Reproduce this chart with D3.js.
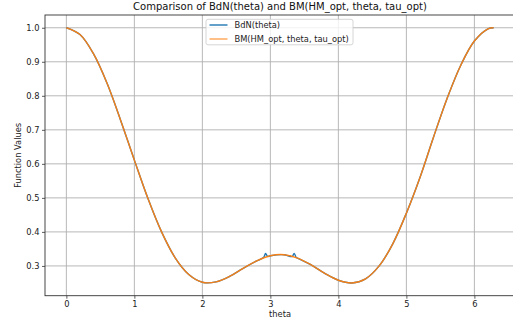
<!DOCTYPE html>
<html>
<head>
<meta charset="utf-8">
<script src="https://cdn.jsdelivr.net/npm/d3@7"></script>
<style>
  body { margin: 0; background: #fff; }
  svg { font-family: "DejaVu Sans", sans-serif; }
</style>
</head>
<body>
<div id="chart"></div>
<script>
// values
const theta = [0, 0.2, 0.4, 0.6, 0.8, 1.0, 1.2, 1.4, 1.6, 1.8, 2.0, 2.2, 2.4, 2.6, 2.8, 3.0,
  3.2, 3.4, 3.6, 3.8, 4.0, 4.2, 4.4, 4.6, 4.8, 5.0, 5.2, 5.4, 5.6, 5.8, 6.0, 6.2, 6.283];
const bmValues = [1.0, 0.980, 0.923, 0.836, 0.727, 0.611, 0.498, 0.400, 0.324, 0.275, 0.252,
  0.253, 0.269, 0.293, 0.315, 0.330, 0.333, 0.323, 0.303, 0.278, 0.258, 0.250, 0.262, 0.300,
  0.365, 0.455, 0.560, 0.679, 0.793, 0.890, 0.961, 0.997, 1.0];
// BdN is drawn under BM; it only shows at two small spikes near 2.93 and 3.35
const thetaBdN = [0, 0.2, 0.4, 0.6, 0.8, 1.0, 1.2, 1.4, 1.6, 1.8, 2.0, 2.2, 2.4, 2.6, 2.8, 2.90, 2.93, 2.96, 3.0,
  3.2, 3.32, 3.35, 3.38, 3.4, 3.6, 3.8, 4.0, 4.2, 4.4, 4.6, 4.8, 5.0, 5.2, 5.4, 5.6, 5.8, 6.0, 6.2, 6.283];
const bdnValues = [1.0, 0.980, 0.923, 0.836, 0.727, 0.611, 0.498, 0.400, 0.324, 0.275, 0.252,
  0.253, 0.269, 0.293, 0.315, 0.3245, 0.337, 0.328, 0.330, 0.333, 0.3275, 0.337, 0.325, 0.323,
  0.303, 0.278, 0.258, 0.250, 0.262, 0.300, 0.365, 0.455, 0.560, 0.679, 0.793, 0.890, 0.961, 0.997, 1.0];
const xTicks = [0, 1, 2, 3, 4, 5, 6];
const yTicks = [0.3, 0.4, 0.5, 0.6, 0.7, 0.8, 0.9, 1.0];
const seriesNames = ["BdN(theta)", "BM(HM_opt, theta, tau_opt)"];
const colors = ["#1f77b4", "#ff7f0e"];

const W = 513, H = 325;
const margin = { top: 15, right: -2, bottom: 29.3, left: 45 };
const width = W - margin.left - margin.right;
const height = H - margin.top - margin.bottom;
const fs = "8.3px";

const svg = d3.select("#chart").append("svg")
  .attr("width", W).attr("height", H);
const g = svg.append("g")
  .attr("transform", `translate(${margin.left},${margin.top})`);

const xPad = 0.05 * 2 * Math.PI;
const x = d3.scaleLinear().domain([-xPad, 2 * Math.PI + xPad]).range([0, width]);
const y = d3.scaleLinear().domain([0.2125, 1.0375]).range([height, 0]);

// grid
g.append("g").selectAll("line").data(xTicks).enter().append("line")
  .attr("x1", d => x(d)).attr("x2", d => x(d))
  .attr("y1", 0).attr("y2", height)
  .attr("stroke", "#b0b0b0").attr("stroke-width", 0.9);
g.append("g").selectAll("line").data(yTicks).enter().append("line")
  .attr("x1", 0).attr("x2", width)
  .attr("y1", d => y(d)).attr("y2", d => y(d))
  .attr("stroke", "#b0b0b0").attr("stroke-width", 0.9);

// axes
const xAxis = g.append("g")
  .attr("transform", `translate(0,${height})`)
  .call(d3.axisBottom(x).tickValues(xTicks).tickFormat(d3.format("d")).tickSize(3).tickPadding(2.5));
const yAxis = g.append("g")
  .call(d3.axisLeft(y).tickValues(yTicks).tickFormat(d3.format(".1f")).tickSize(3).tickPadding(2.5));
[xAxis, yAxis].forEach(a => {
  a.select(".domain").remove();
  a.selectAll("text").attr("font-size", fs).attr("fill", "#222").attr("font-family", "DejaVu Sans");
  a.selectAll("line").attr("stroke", "#333").attr("stroke-width", 0.8);
});

// spines
g.append("rect")
  .attr("x", 0).attr("y", 0).attr("width", width).attr("height", height)
  .attr("fill", "none").attr("stroke", "#333").attr("stroke-width", 0.9);

// lines
const line = d3.line().curve(d3.curveCatmullRom);
g.append("path")
  .attr("d", line(thetaBdN.map((t, i) => [x(t), y(bdnValues[i])])))
  .attr("fill", "none").attr("stroke", colors[0]).attr("stroke-width", 1.4);
g.append("path")
  .attr("d", line(theta.map((t, i) => [x(t), y(bmValues[i])])))
  .attr("fill", "none").attr("stroke", colors[1]).attr("stroke-width", 1.4)
  .attr("stroke-opacity", 0.95);

// legend
const leg = g.append("g").attr("transform", "translate(161,4.3)");
leg.append("rect")
  .attr("x", 0).attr("y", 0).attr("width", 147).attr("height", 25.5).attr("rx", 2)
  .attr("fill", "#fff").attr("fill-opacity", 0.8)
  .attr("stroke", "#ccc").attr("stroke-width", 0.8);
seriesNames.forEach((name, i) => {
  const ly = 5.7 + i * 14;
  leg.append("line")
    .attr("x1", 3.5).attr("x2", 21.5).attr("y1", ly).attr("y2", ly)
    .attr("stroke", colors[i]).attr("stroke-width", 1.4)
    .attr("stroke-opacity", i === 1 ? 0.7 : 1);
  leg.append("text")
    .attr("x", 28.5).attr("y", ly).attr("dy", "0.35em")
    .attr("font-size", fs).attr("fill", "#222")
    .text(name);
});

// title and labels
svg.append("text")
  .attr("x", margin.left + width / 2).attr("y", 9.5)
  .attr("text-anchor", "middle").attr("font-size", "10px").attr("fill", "#111")
  .text("Comparison of BdN(theta) and BM(HM_opt, theta, tau_opt)");
svg.append("text")
  .attr("x", margin.left + width / 2).attr("y", 316.5)
  .attr("text-anchor", "middle").attr("font-size", fs).attr("fill", "#222")
  .text("theta");
svg.append("text")
  .attr("transform", `translate(21,${margin.top + height / 2}) rotate(-90)`)
  .attr("text-anchor", "middle").attr("font-size", fs).attr("fill", "#222")
  .text("Function Values");
</script>
</body>
</html>
